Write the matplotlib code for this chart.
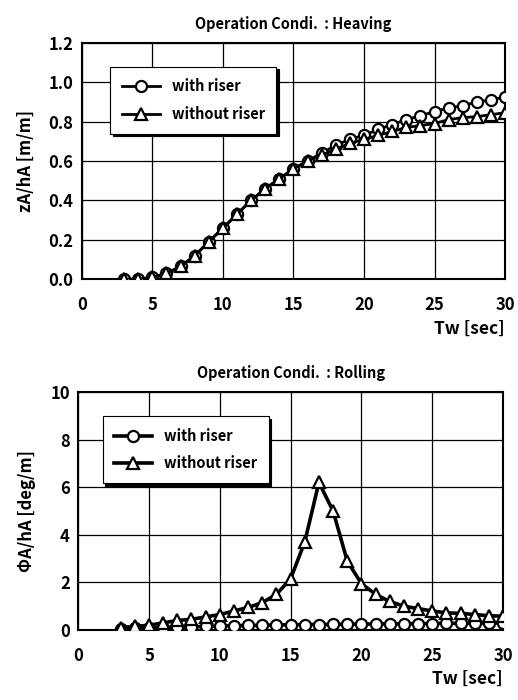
import matplotlib
matplotlib.use("Agg")
import matplotlib.pyplot as plt

plt.rcParams['font.family'] = ['Noto Sans CJK JP', 'DejaVu Sans']
plt.rcParams['font.weight'] = 'bold'

# 波周期 (sec)
tw = list(range(3, 31))

# Heaving
heave_with = [0.0, 0.0, 0.01, 0.03, 0.065, 0.12, 0.19, 0.26, 0.33, 0.40,
              0.46, 0.51, 0.56, 0.60, 0.64, 0.68, 0.71, 0.73, 0.76, 0.785,
              0.81, 0.83, 0.85, 0.87, 0.88, 0.90, 0.91, 0.925]
heave_without = [0.0, 0.0, 0.01, 0.03, 0.065, 0.12, 0.19, 0.26, 0.33, 0.40,
                 0.46, 0.51, 0.56, 0.60, 0.63, 0.66, 0.69, 0.71, 0.73, 0.75,
                 0.77, 0.78, 0.79, 0.81, 0.82, 0.825, 0.835, 0.845]

# Rolling
roll_with = [0.05, 0.07, 0.08, 0.10, 0.12, 0.13, 0.15, 0.17, 0.18, 0.19,
             0.20, 0.21, 0.22, 0.23, 0.23, 0.24, 0.24, 0.25, 0.25, 0.26,
             0.26, 0.27, 0.27, 0.28, 0.28, 0.29, 0.29, 0.30]
roll_without = [0.10, 0.15, 0.20, 0.30, 0.40, 0.45, 0.55, 0.65, 0.80, 0.95,
                1.15, 1.50, 2.15, 3.70, 6.20, 5.00, 2.90, 1.95, 1.50, 1.20,
                1.00, 0.90, 0.80, 0.72, 0.70, 0.65, 0.60, 0.58]

fig = plt.figure(figsize=(5.18, 7.0), dpi=100)
ax1 = fig.add_axes([0.158, 0.601, 0.817, 0.338])
ax2 = fig.add_axes([0.151, 0.100, 0.820, 0.340])


def draw(ax, y_with, y_without, ylim, yticks, yfmt, ylabel, title, leg_anchor, lw):
    ax.plot(tw, y_with, color='black', lw=lw, marker='o', ms=8,
            mfc='white', mec='black', mew=1.6, label='with riser', zorder=3)
    ax.plot(tw, y_without, color='black', lw=lw, marker='^', ms=8,
            mfc='white', mec='black', mew=1.6, label='without riser', zorder=4)
    ax.set_xlim(0, 30)
    ax.set_ylim(*ylim)
    ax.set_xticks(range(0, 31, 5))
    ax.set_yticks(yticks)
    ax.set_yticklabels([yfmt.format(v) for v in yticks])
    ax.grid(True, color='black', lw=0.9)
    ax.tick_params(length=0, labelsize=12, pad=6)
    ax.tick_params(axis='x', pad=12)
    for s in ax.spines.values():
        s.set_linewidth(1.5)
    ax.set_ylabel(ylabel, fontsize=12, fontweight='bold', labelpad=10)
    ax.set_title(title, fontsize=10.5, fontweight='bold', pad=10)
    ax.set_xlabel('Tw [sec]', fontsize=12.5, fontweight='bold', loc='right', labelpad=4)
    leg = ax.legend(loc='upper left', bbox_to_anchor=leg_anchor, fancybox=False,
                    shadow={'color': 'black', 'alpha': 1}, framealpha=1,
                    edgecolor='black', fontsize=10.5, handlelength=2.6,
                    borderpad=0.8, labelspacing=0.8)
    leg.get_frame().set_linewidth(0.8)


draw(ax1, heave_with, heave_without, (0, 1.2), [0, 0.2, 0.4, 0.6, 0.8, 1.0, 1.2],
     '{:.1f}', 'zA/hA [m/m]', 'Operation Condi.  : Heaving', (0.05, 0.93), 2.0)
draw(ax2, roll_with, roll_without, (0, 10), [0, 2, 4, 6, 8, 10],
     '{:d}', 'ΦA/hA [deg/m]', 'Operation Condi.  : Rolling', (0.04, 0.93), 2.6)

fig.savefig('out.png', dpi=100)
